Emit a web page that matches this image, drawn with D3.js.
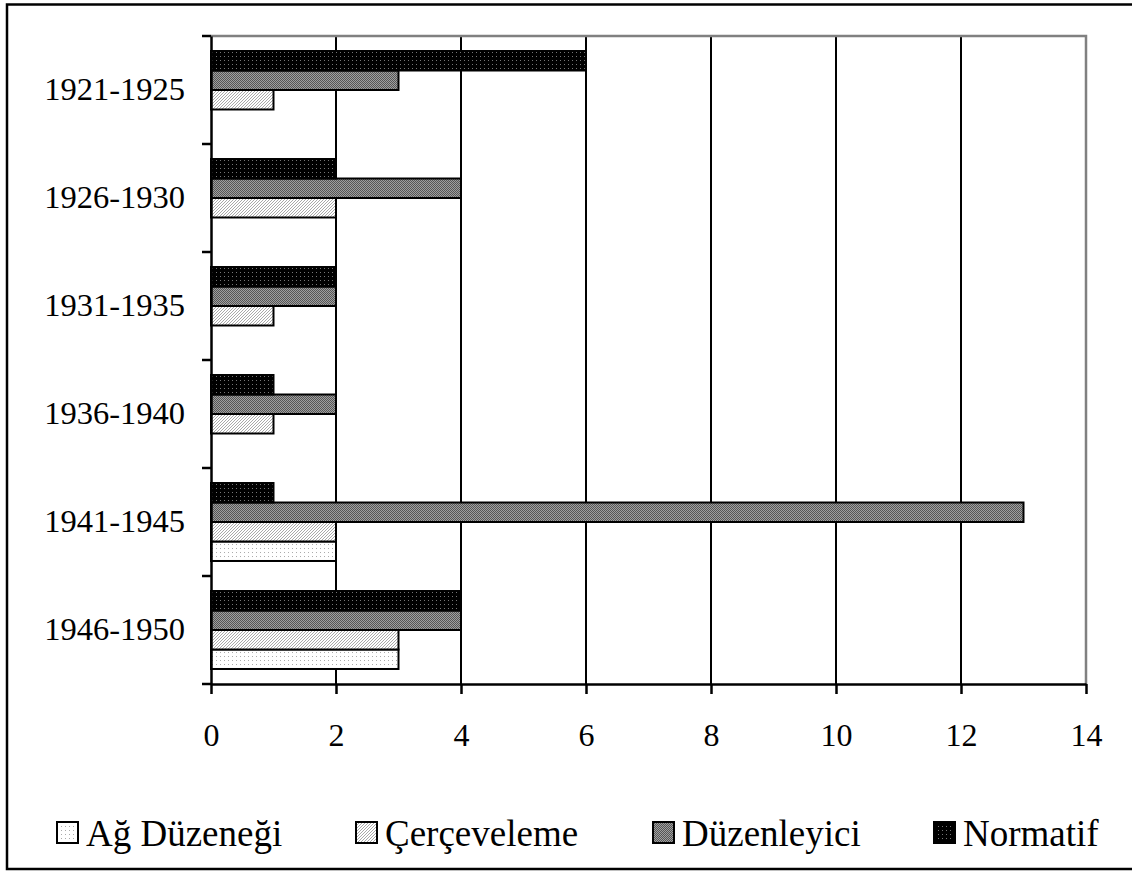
<!DOCTYPE html>
<html>
<head>
<meta charset="utf-8">
<script src="https://cdn.jsdelivr.net/npm/d3@7"></script>
<style>
  body { margin: 0; background: #fff; }
  svg { display: block; font-family: "Liberation Serif", "Times New Roman", serif; }
</style>
</head>
<body>
<svg id="chart" width="1132" height="871"></svg>
<script>
const periods = ['1921-1925', '1926-1930', '1931-1935', '1936-1940', '1941-1945', '1946-1950'];
const seriesNames = ['Ağ Düzeneği', 'Çerçeveleme', 'Düzenleyici', 'Normatif'];
const agDuzenegi = [0, 0, 0, 0, 2, 3];
const cerceveleme = [1, 2, 1, 1, 2, 3];
const duzenleyici = [3, 4, 2, 2, 13, 4];
const normatif = [6, 2, 2, 1, 1, 4];
const xTicks = [0, 2, 4, 6, 8, 10, 12, 14];

const seriesValues = [agDuzenegi, cerceveleme, duzenleyici, normatif];
const patternIds = ['pat-ag', 'pat-cer', 'pat-duz', 'pat-nor'];

const margin = { top: 36, right: 46, bottom: 187, left: 211 };
const width = 1132 - margin.left - margin.right;
const height = 871 - margin.top - margin.bottom;

const root = d3.select('#chart');

// fill patterns (Excel style b/w)
const defs = root.append('defs');

const pAg = defs.append('pattern').attr('id', 'pat-ag')
  .attr('patternUnits', 'userSpaceOnUse').attr('width', 4).attr('height', 4);
pAg.append('rect').attr('width', 4).attr('height', 4).attr('fill', '#fff');
pAg.append('rect').attr('x', 1).attr('y', 1).attr('width', 1).attr('height', 1).attr('fill', '#aaa');

const pCer = defs.append('pattern').attr('id', 'pat-cer')
  .attr('patternUnits', 'userSpaceOnUse').attr('width', 3).attr('height', 3);
pCer.append('rect').attr('width', 3).attr('height', 3).attr('fill', '#fff');
pCer.append('path').attr('d', 'M0,3 L3,0 M-1,1 L1,-1 M2,4 L4,2')
  .attr('stroke', '#a8a8a8').attr('stroke-width', 1);

const pDuz = defs.append('pattern').attr('id', 'pat-duz')
  .attr('patternUnits', 'userSpaceOnUse').attr('width', 2).attr('height', 2);
pDuz.append('rect').attr('width', 2).attr('height', 2).attr('fill', '#a0a0a0');
pDuz.append('rect').attr('width', 1).attr('height', 1).attr('fill', '#555');
pDuz.append('rect').attr('x', 1).attr('y', 1).attr('width', 1).attr('height', 1).attr('fill', '#555');

const pNor = defs.append('pattern').attr('id', 'pat-nor')
  .attr('patternUnits', 'userSpaceOnUse').attr('width', 4).attr('height', 4);
pNor.append('rect').attr('width', 4).attr('height', 4).attr('fill', '#000');
pNor.append('rect').attr('x', 1).attr('y', 1).attr('width', 1).attr('height', 1).attr('fill', '#777');

// outer frame
root.append('rect')
  .attr('x', 7).attr('y', 4.5)
  .attr('width', 1140).attr('height', 864.5)
  .attr('fill', 'none').attr('stroke', '#000').attr('stroke-width', 2.5);

const svg = root.append('g').attr('transform', `translate(${margin.left},${margin.top})`);

const xScale = d3.scaleLinear().domain([0, 14]).range([0, width]);
const yScale = d3.scaleBand().domain(periods).range([0, height])
  .paddingInner(0.278).paddingOuter(0.139);
// Excel draws the last series on top
const inner = d3.scaleBand().domain(d3.range(4).reverse()).range([0, yScale.bandwidth()]);

// gridlines
svg.append('g')
  .selectAll('line')
  .data(xTicks.filter(d => d > 0 && d < 14))
  .enter()
  .append('line')
  .attr('x1', d => xScale(d)).attr('x2', d => xScale(d))
  .attr('y1', 0).attr('y2', height)
  .attr('stroke', '#000').attr('stroke-width', 2);

// plot area border (top + right in gray)
svg.append('path')
  .attr('d', `M0,0 H${width} V${height}`)
  .attr('fill', 'none').attr('stroke', '#808080').attr('stroke-width', 2.5);

// bars
const groups = svg.selectAll('.grp')
  .data(periods)
  .enter()
  .append('g')
  .attr('class', 'grp')
  .attr('transform', d => `translate(0,${yScale(d)})`);

groups.each(function(p, pi) {
  const g = d3.select(this);
  seriesValues.forEach((vals, si) => {
    if (vals[pi] <= 0) return;
    g.append('rect')
      .attr('x', xScale(0))
      .attr('y', inner(si))
      .attr('width', xScale(vals[pi]) - xScale(0))
      .attr('height', inner.bandwidth())
      .attr('fill', `url(#${patternIds[si]})`)
      .attr('stroke', '#000').attr('stroke-width', 2);
  });
});

// x axis
const xAxis = svg.append('g')
  .attr('transform', `translate(0,${height})`)
  .call(d3.axisBottom(xScale).tickValues(xTicks).tickSize(10).tickPadding(29).tickSizeOuter(0));
xAxis.select('.domain').attr('stroke', '#000').attr('stroke-width', 2.5);
xAxis.selectAll('.tick line').attr('stroke', '#000').attr('stroke-width', 2.5);
xAxis.selectAll('.tick text')
  .attr('fill', '#000')
  .style('font-family', '"Liberation Serif", "Times New Roman", serif')
  .style('font-size', '32px');

// y axis
const yAxis = svg.append('g')
  .call(d3.axisLeft(yScale).tickSize(0).tickPadding(26));
yAxis.select('.domain').attr('stroke', '#000').attr('stroke-width', 2.5);
yAxis.selectAll('.tick text')
  .attr('fill', '#000')
  .style('font-family', '"Liberation Serif", "Times New Roman", serif')
  .style('font-size', '32.5px');

// y tick marks at category boundaries
const step = yScale.step();
svg.append('g')
  .selectAll('line')
  .data(d3.range(periods.length + 1))
  .enter()
  .append('line')
  .attr('x1', -9).attr('x2', 0)
  .attr('y1', d => d * step).attr('y2', d => d * step)
  .attr('stroke', '#000').attr('stroke-width', 2.5);

// legend
const legendX = [56, 355, 652, 933];
const legend = root.append('g').attr('transform', 'translate(0,833)');
const items = legend.selectAll('.item')
  .data(seriesNames)
  .enter()
  .append('g')
  .attr('class', 'item')
  .attr('transform', (d, i) => `translate(${legendX[i]},0)`);
items.append('rect')
  .attr('x', 1).attr('y', -11)
  .attr('width', 21).attr('height', 21)
  .attr('fill', (d, i) => `url(#${patternIds[i]})`)
  .attr('stroke', '#000').attr('stroke-width', 2);
items.append('text')
  .attr('x', 30).attr('y', 13)
  .style('font-size', '37px')
  .attr('fill', '#000')
  .text(d => d);
</script>
</body>
</html>
